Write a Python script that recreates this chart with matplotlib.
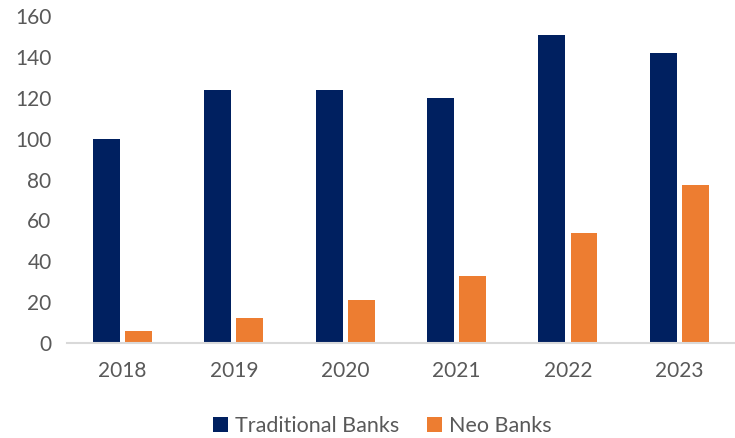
import numpy as np
import matplotlib.pyplot as plt

plt.rcParams['font.family'] = ['Lato', 'DejaVu Sans']

years = ['2018', '2019', '2020', '2021', '2022', '2023']
traditional_banks = [100, 124, 124, 120, 151, 142]
neo_banks = [6, 12, 21, 33, 54, 77.5]

navy = '#002060'
orange = '#ED7D31'
text_gray = '#595959'

fig = plt.figure(figsize=(7.35, 4.38), dpi=100)
ax = fig.add_axes([0.091, 0.217, 0.909, 0.746])

x = np.arange(len(years))
width = 0.242
offset = 0.144
ax.bar(x - offset, traditional_banks, width, color=navy, label='Traditional Banks')
ax.bar(x + offset, neo_banks, width, color=orange, label='Neo Banks')

ax.set_xlim(-0.5, len(years) - 0.5)
ax.set_ylim(0, 160)
ax.set_yticks(range(0, 161, 20))
ax.set_xticks(x)
ax.set_xticklabels(years)

for side in ['top', 'right', 'left']:
    ax.spines[side].set_visible(False)
ax.spines['bottom'].set_color('#D9D9D9')
ax.spines['bottom'].set_linewidth(1.5)

ax.tick_params(axis='both', length=0, labelsize=15, labelcolor=text_gray)
ax.tick_params(axis='x', pad=13)
ax.tick_params(axis='y', pad=11)

fig.legend(loc='center', bbox_to_anchor=(0.52, 0.027), ncol=2, frameon=False,
           fontsize=15.5, handlelength=0.7, handleheight=0.7, handletextpad=0.3,
           columnspacing=1.3, labelcolor=text_gray)

fig.savefig('out.png', dpi=100)
